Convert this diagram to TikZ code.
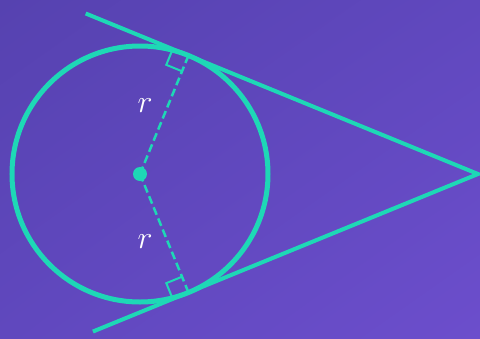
\documentclass[tikz,border=0pt]{standalone}
\usepackage{fix-cm}
\usetikzlibrary{calc,shadings}
\definecolor{bgA}{RGB}{86,66,176}
\definecolor{bgM}{RGB}{96,72,190}
\definecolor{bgB}{RGB}{108,78,204}
\definecolor{teal}{RGB}{30,216,182}
\begin{document}
\begin{tikzpicture}[x=1pt,y=-1pt,
  circ/.style={draw=teal,line width=5pt},
  tang/.style={draw=teal,line width=4pt},
  rad/.style={draw=teal,line width=2.5pt,dash pattern=on 8pt off 4pt},
  rmark/.style={draw=teal,line width=2pt},
  lab/.style={text=white,font=\fontsize{32}{32}\selectfont}]
\shade[upper left=bgA,lower right=bgB,upper right=bgM,lower left=bgM] (0,0) rectangle (480,338);
\useasboundingbox (0,0) rectangle (480,338);
\coordinate (C) at (140,174);
\coordinate (A) at (478,174);
\coordinate (T1) at ($(C)+(-67.75:128)$);
\coordinate (T2) at ($(C)+(67.75:128)$);
\coordinate (E1) at ($(A)!1.355!(T1)$);
\coordinate (E2) at ($(A)!1.33!(T2)$);
\draw[circ] (C) circle (128);
\draw[tang] (E1) -- (A) -- (E2);
\draw[rad] (C) -- (T1);
\draw[rad] (C) -- (T2);
\coordinate (P1) at ($(T1)!17pt!(C)$);
\coordinate (P3) at ($(T1)!17pt!(E1)$);
\draw[rmark] (P1) -- ($(P1)+(P3)-(T1)$) -- (P3);
\coordinate (Q1) at ($(T2)!17pt!(C)$);
\coordinate (Q3) at ($(T2)!17pt!(E2)$);
\draw[rmark] (Q1) -- ($(Q1)+(Q3)-(T2)$) -- (Q3);
\node[circle,fill=teal,inner sep=0pt,minimum size=14pt] (dot) at (C) {};
\node[lab] (r1) at (145,106) {$r$};
\node[lab] (r2) at (145,242) {$r$};
\end{tikzpicture}
\end{document}
